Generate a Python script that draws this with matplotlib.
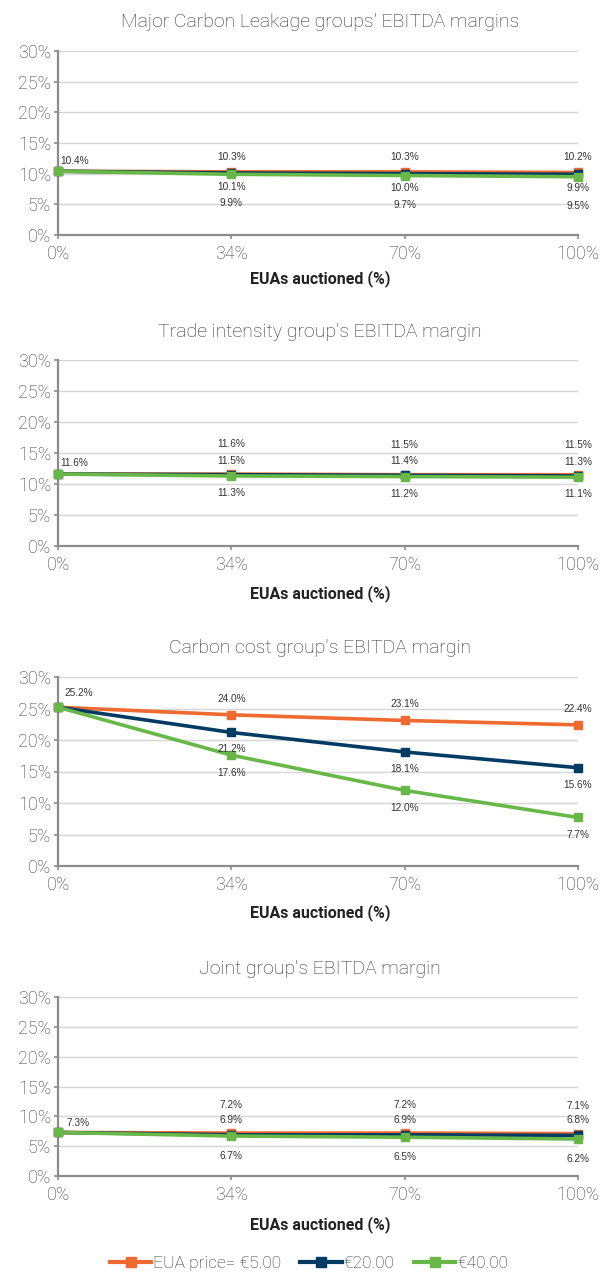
import matplotlib
matplotlib.use("Agg")
import matplotlib.pyplot as plt
from matplotlib.lines import Line2D

plt.rcParams['font.family'] = ['Roboto', 'DejaVu Sans']

categories = ["0%", "34%", "70%", "100%"]
series_names = ["EUA price= €5.00", "€20.00", "€40.00"]
colors = ["#EF6A30", "#003B64", "#67B847"]

titles = ["Major Carbon Leakage groups' EBITDA margins",
          "Trade intensity group's EBITDA margin",
          "Carbon cost group's EBITDA margin",
          "Joint group's EBITDA margin"]

major_leakage = [[10.4, 10.3, 10.3, 10.2],
                 [10.4, 10.1, 10.0, 9.9],
                 [10.4, 9.9, 9.7, 9.5]]
trade_intensity = [[11.6, 11.6, 11.5, 11.5],
                   [11.6, 11.5, 11.4, 11.3],
                   [11.6, 11.3, 11.2, 11.1]]
carbon_cost = [[25.2, 24.0, 23.1, 22.4],
               [25.2, 21.2, 18.1, 15.6],
               [25.2, 17.6, 12.0, 7.7]]
joint = [[7.3, 7.2, 7.2, 7.1],
         [7.3, 6.9, 6.9, 6.8],
         [7.3, 6.7, 6.5, 6.2]]
panels = [major_leakage, trade_intensity, carbon_cost, joint]

yticks = [0, 5, 10, 15, 20, 25, 30]
xlabel = "EUAs auctioned (%)"

W, H = 600, 1273
fig = plt.figure(figsize=(W / 100, H / 100), dpi=100)

# layout in pixels: (axes top, axes bottom, title y, xlabel y)
layout = [(51, 235, 22, 279),
          (360, 546, 332, 594),
          (677, 866, 648, 913),
          (997, 1176, 969, 1225)]
# label offsets in px (dy per series), first-point label offset
label_dy = [(15, -14, -29), (30, 14, -17), (16, -17, -18), (28, 15, -20)]
first_off = [(17, 10), (16, 11), (21, 14), (20, 9)]

x_left, x_right = 58, 578
px2pt = 0.72
for p, data in enumerate(panels):
    top, bot, ty, xly = layout[p]
    ax = fig.add_axes([x_left / W, 1 - bot / H, (x_right - x_left) / W, (bot - top) / H])
    xs = list(range(len(categories)))
    for s, vals in enumerate(data):
        ax.plot(xs, vals, color=colors[s], lw=2.6, marker='s', ms=5.5,
                clip_on=False, zorder=3 + s * 0.1)
    # data labels
    for s, vals in enumerate(data):
        for i, v in enumerate(vals):
            if i == 0:
                if s != 0:
                    continue
                dx, dy = first_off[p]
            else:
                dx, dy = 0, label_dy[p][s]
            ax.annotate(f"{v:.1f}%", (xs[i], v), xytext=(dx * px2pt, dy * px2pt),
                        textcoords='offset points', ha='center', va='center',
                        fontsize=7.3, color='#333333', family=['Liberation Sans'],
                        annotation_clip=False, zorder=6)
    ax.set_xlim(0, 3)
    ax.set_ylim(0, 30)
    ax.set_xticks(xs)
    ax.set_xticklabels(categories)
    ax.set_yticks(yticks)
    ax.set_yticklabels([f"{t}%" for t in yticks])
    ax.grid(axis='y', color='#D6D6D6', lw=1.0)
    ax.set_axisbelow(True)
    for sp in ['top', 'right']:
        ax.spines[sp].set_visible(False)
    for sp in ['left', 'bottom']:
        ax.spines[sp].set_color('#8C8C8C')
        ax.spines[sp].set_linewidth(1.6)
    ax.tick_params(axis='both', colors='#8C8C8C', labelcolor='#3C3C3C',
                   labelsize=13, length=3, width=1.2)
    ax.tick_params(axis='y', pad=2)
    ax.tick_params(axis='x', pad=4)
    for t in ax.get_xticklabels() + ax.get_yticklabels():
        t.set_fontweight('light')
    fig.text(320 / W, 1 - ty / H, titles[p], ha='center', va='center',
             fontsize=14, color='#2E2E2E', fontweight='light')
    fig.text(320 / W, 1 - xly / H, xlabel, ha='center', va='center',
             fontsize=11.5, color='#222222', fontweight='bold')

handles = [Line2D([], [], color=c, lw=3, marker='s', ms=7) for c in colors]
fig.legend(handles, series_names, loc='center', bbox_to_anchor=(0.515, 1 - 1263 / H),
           ncol=3, frameon=False, handlelength=2.4, handletextpad=0.1,
           columnspacing=1.1, labelcolor='#2E2E2E', prop={'weight': 'light', 'size': 12.5})

fig.savefig("out.png", dpi=100)
